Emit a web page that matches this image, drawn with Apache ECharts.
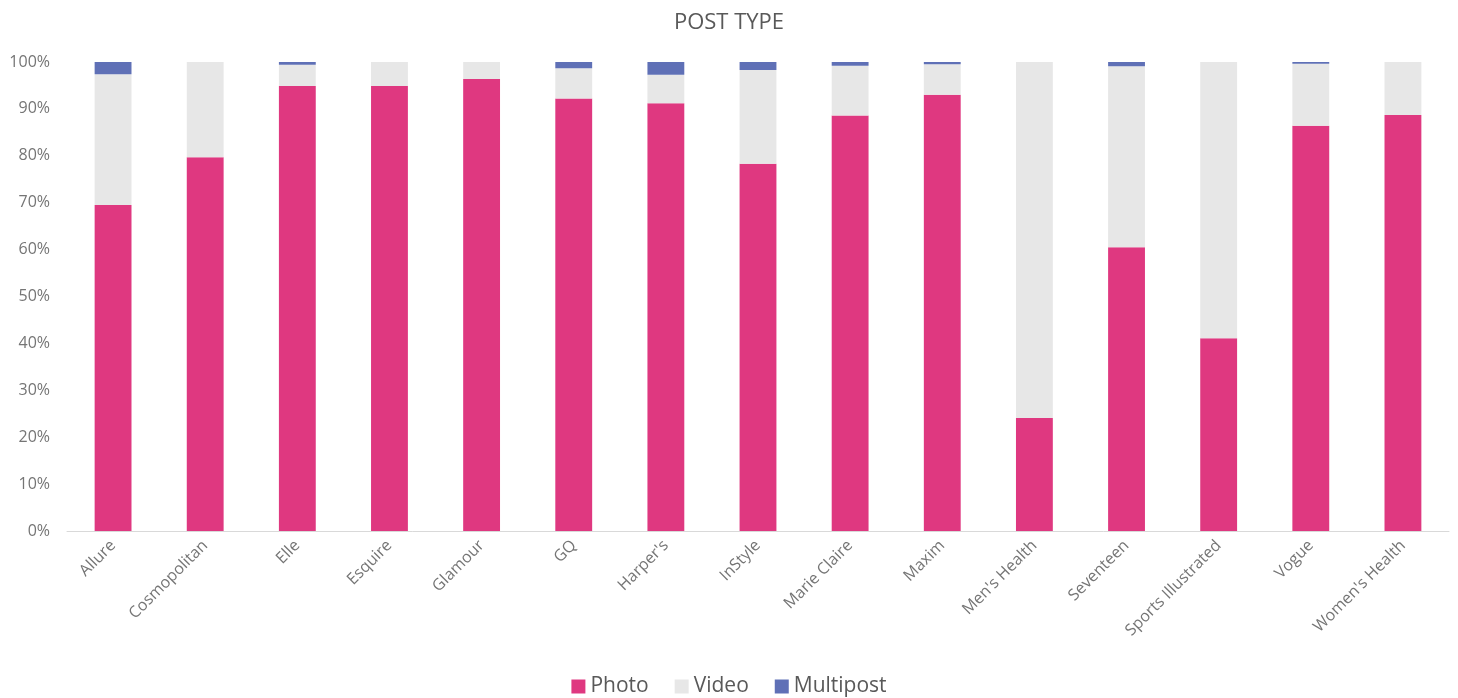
<!DOCTYPE html>
<html>
<head>
<meta charset="utf-8">
<title>Post Type</title>
<script src="https://cdn.jsdelivr.net/npm/echarts@6/dist/echarts.min.js"></script>
<style>
  html, body {
    margin: 0;
    padding: 0;
    background: #ffffff;
  }
  #chart {
    width: 1458px;
    height: 698px;
  }
</style>
</head>
<body>
<div id="chart"></div>
<script>
  // magazines on the x axis
  var magazines = ['Allure', 'Cosmopolitan', 'Elle', 'Esquire', 'Glamour', 'GQ', "Harper's", 'InStyle',
    'Marie Claire', 'Maxim', "Men's Health", 'Seventeen', 'Sports Illustrated', 'Vogue', "Women's Health"];

  // share of posts, in percent
  var photo = [69.5, 79.7, 94.9, 94.9, 96.4, 92.2, 91.2, 78.3, 88.6, 93.0, 24.1, 60.5, 41.1, 86.4, 88.7];
  var video = [27.9, 20.3, 4.5, 5.1, 3.6, 6.45, 6.1, 20.0, 10.6, 6.5, 75.9, 38.6, 58.9, 13.25, 11.3];
  var multipost = [2.6, 0, 0.6, 0, 0, 1.35, 2.7, 1.7, 0.8, 0.5, 0, 0.9, 0, 0.35, 0];

  var yTicks = [0, 10, 20, 30, 40, 50, 60, 70, 80, 90, 100];

  var myChart = echarts.init(document.getElementById('chart'));
  var option = {
    animation: false,
    title: {
      text: 'POST TYPE',
      left: 'center',
      top: 7,
      textStyle: {
        fontFamily: 'Open Sans',
        fontWeight: 'normal',
        fontSize: 22,
        color: '#595959'
      }
    },
    legend: {
      bottom: -4,
      left: 'center',
      itemWidth: 14,
      itemHeight: 14,
      itemGap: 26,
      icon: 'rect',
      textStyle: {
        fontFamily: 'Open Sans',
        fontSize: 21,
        color: '#595959'
      },
      data: ['Photo', 'Video', 'Multipost']
    },
    grid: {
      left: 67,
      right: 9,
      top: 62,
      bottom: 167,
      containLabel: false
    },
    xAxis: {
      type: 'category',
      data: magazines,
      axisLine: { lineStyle: { color: '#d9d9d9', width: 1 } },
      axisTick: { show: false },
      axisLabel: {
        interval: 0,
        rotate: 45,
        margin: 12,
        fontFamily: 'Open Sans',
        fontSize: 16,
        color: '#757575'
      }
    },
    yAxis: {
      type: 'value',
      min: yTicks[0],
      max: yTicks[yTicks.length - 1],
      interval: 10,
      splitLine: { show: false },
      axisLine: { show: false },
      axisTick: { show: false },
      axisLabel: {
        formatter: '{value}%',
        margin: 17,
        fontFamily: 'Open Sans',
        fontSize: 16,
        color: '#757575'
      }
    },
    series: [
      {
        name: 'Photo',
        type: 'bar',
        stack: 'total',
        barWidth: '40%',
        itemStyle: { color: '#df3880' },
        data: photo
      },
      {
        name: 'Video',
        type: 'bar',
        stack: 'total',
        itemStyle: { color: '#e7e7e7' },
        data: video
      },
      {
        name: 'Multipost',
        type: 'bar',
        stack: 'total',
        itemStyle: { color: '#5f70b6' },
        data: multipost
      }
    ]
  };
  myChart.setOption(option);
</script>
</body>
</html>
